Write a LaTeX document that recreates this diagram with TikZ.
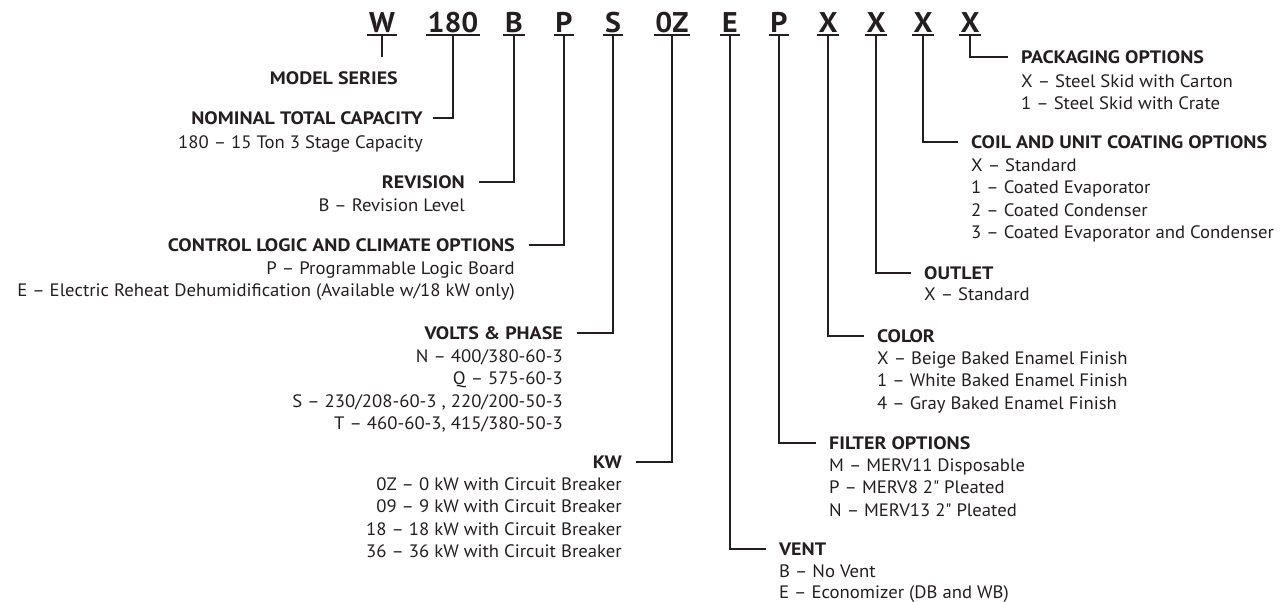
\documentclass[tikz,border=0pt]{standalone}
\usepackage{fontspec}
\setmainfont{PT Sans}[FakeStretch=1.04, BoldFeatures={FakeStretch=1.11}]
\newfontfamily\codefont{PT Sans}[BoldFeatures={FakeStretch=1.05}]
\definecolor{ink}{HTML}{231F20}
\newcommand\bodyR[1]{\begin{tabular}[t]{@{}r@{}}#1\end{tabular}}
\newcommand\bodyL[1]{\begin{tabular}[t]{@{}l@{}}#1\end{tabular}}
\tikzset{
  code/.style={font=\codefont\fontsize{28.5}{30}\selectfont\bfseries, text=ink, inner xsep=1.5pt, inner ysep=2pt, text depth=0pt, anchor=south},
  head/.style={font=\fontsize{18}{22.4}\selectfont\bfseries, text=ink, inner sep=0pt},
  body/.style={font=\fontsize{18}{22.4}\selectfont, text=ink, inner sep=0pt},
  conn/.style={draw=ink, line width=2pt},
  uline/.style={draw=ink, line width=1.4pt}
}
\begin{document}
\begin{tikzpicture}[x=1pt,y=-1pt]
\useasboundingbox (0,0) rectangle (1283,602);
% code letters
\node[code] (c1) at (382,35) {W};
\node[code] (c2) at (453,35) {180};
\node[code] (c3) at (514,35) {B};
\node[code] (c4) at (564,35) {P};
\node[code] (c5) at (613,35) {S};
\node[code] (c6) at (672,35) {0Z};
\node[code] (c7) at (730,35) {E};
\node[code] (c8) at (779,35) {P};
\node[code] (c9) at (828,35) {X};
\node[code] (c10) at (876,35) {X};
\node[code] (c11) at (923,35) {X};
\node[code] (c12) at (970,35) {X};
\foreach \i in {1,...,12} \draw[uline] (c\i.south west) -- (c\i.south east);
% left blocks
\node[head, anchor=base east] (h1) at (398,84.2) {MODEL SERIES};
\node[head, anchor=base east] (h2) at (423,124.2) {NOMINAL TOTAL CAPACITY};
\node[body, anchor=base east] (b2) at (423,148.2) {\bodyR{180 – 15 Ton 3 Stage Capacity}};
\node[head, anchor=base east] (h3) at (465,188.2) {REVISION};
\node[body, anchor=base east] (b3) at (465,211.2) {\bodyR{B – Revision Level}};
\node[head, anchor=base east] (h4) at (515,251.2) {CONTROL LOGIC AND CLIMATE OPTIONS};
\node[body, anchor=base east] (b4) at (515,274.2) {\bodyR{P – Programmable Logic Board\\E – Electric Reheat Dehumidification (Available w/18 kW only)}};
\node[head, anchor=base east] (h5) at (563,339.2) {VOLTS \& PHASE};
\node[body, anchor=base east] (b5) at (563,362.2) {\bodyR{N – 400/380-60-3\\Q – 575-60-3\\S – 230/208-60-3 , 220/200-50-3\\T – 460-60-3, 415/380-50-3}};
\node[head, anchor=base east] (h6) at (622,468.2) {KW};
\node[body, anchor=base east] (b6) at (622,490.2) {\bodyR{0Z – 0 kW with Circuit Breaker\\09 – 9 kW with Circuit Breaker\\18 – 18 kW with Circuit Breaker\\36 – 36 kW with Circuit Breaker}};
% right blocks
\node[head, anchor=base west] (h7) at (779,555.2) {VENT};
\node[body, anchor=base west, font=\fontsize{18}{21}\selectfont] (b7) at (779,577.2) {\bodyL{B – No Vent\\E – Economizer (DB and WB)}};
\node[head, anchor=base west] (h8) at (829,449.2) {FILTER OPTIONS};
\node[body, anchor=base west] (b8) at (829,471.2) {\bodyL{M – MERV11 Disposable\\P – MERV8 2\textquotedbl{} Pleated\\N – MERV13 2\textquotedbl{} Pleated}};
\node[head, anchor=base west] (h9) at (877,342.2) {COLOR};
\node[body, anchor=base west] (b9) at (877,364.2) {\bodyL{X – Beige Baked Enamel Finish\\1 – White Baked Enamel Finish\\4 – Gray Baked Enamel Finish}};
\node[head, anchor=base west] (h10) at (924,279.2) {OUTLET};
\node[body, anchor=base west] (b10) at (924,300.2) {\bodyL{X – Standard}};
\node[head, anchor=base west] (h11) at (971,148.2) {COIL AND UNIT COATING OPTIONS};
\node[body, anchor=base west] (b11) at (971,171.2) {\bodyL{X – Standard\\1 – Coated Evaporator\\2 – Coated Condenser\\3 – Coated Evaporator and Condenser}};
\node[head, anchor=base west] (h12) at (1021,63.2) {PACKAGING OPTIONS};
\node[body, anchor=base west] (b12) at (1021,87.2) {\bodyL{X – Steel Skid with Carton\\1 – Steel Skid with Crate}};
% connectors
\draw[conn] (c1.south) -- ([yshift=14pt]c1.south |- h1.north);
\draw[conn] (c2.south) |- ([xshift=10pt,yshift=6.2pt]h2.base east);
\foreach \i in {3,4,5,6}
  \draw[conn] (c\i.south) |- ([xshift=14pt,yshift=6.2pt]h\i.base east);
\foreach \i in {7,8,9,10,11,12}
  \draw[conn] (c\i.south) |- ([xshift=-13pt,yshift=6.2pt]h\i.base west);
\end{tikzpicture}
\end{document}
